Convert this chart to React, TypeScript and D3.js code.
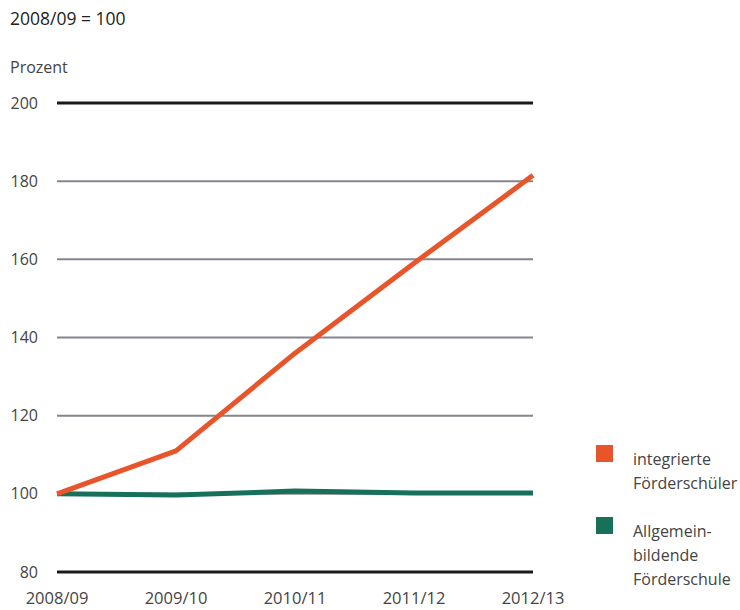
import React from "react";
import * as d3 from "d3";

const categories = ["2008/09", "2009/10", "2010/11", "2011/12", "2012/13"];
const integrierte = [100, 111, 136, 159, 181.5];
const allgemein = [100, 99.7, 100.7, 100.2, 100.2];
const yTicks = [80, 100, 120, 140, 160, 180, 200];
const legendItems = [
  { lines: ["integrierte", "Förderschüler"], color: "#E8552A" },
  { lines: ["Allgemein-", "bildende", "Förderschule"], color: "#17705A" },
];

const W = 740;
const H = 610;
const FONT = "'Open Sans', 'Noto Sans', sans-serif";

export default function App() {
  const x = d3.scalePoint<string>().domain(categories).range([57, 533]);
  const y = d3.scaleLinear().domain([80, 200]).range([572, 103]);
  const line = d3
    .line<number>()
    .x((_, i) => x(categories[i]) as number)
    .y((d) => y(d));

  return (
    <svg
      width={W}
      height={H}
      style={{ position: "absolute", left: 0, top: 0, background: "#fff" }}
      fontFamily={FONT}
    >
      <text x={10} y={25} fontSize={17.5} fill="#222" fontWeight={500}>
        2008/09 = 100
      </text>
      <text x={10} y={73} fontSize={16} fill="#444">
        Prozent
      </text>
      {yTicks.map((t) => {
        const edge = t === 80 || t === 200;
        return (
          <g key={t}>
            <line
              x1={57}
              x2={533}
              y1={y(t)}
              y2={y(t)}
              stroke={edge ? "#1a1a1a" : "#85858d"}
              strokeWidth={edge ? 3 : 2}
            />
            <text
              x={38}
              y={y(t)}
              dy="0.35em"
              textAnchor="end"
              fontSize={16}
              fill="#444"
            >
              {t}
            </text>
          </g>
        );
      })}
      {categories.map((c) => (
        <text
          key={c}
          x={x(c) as number}
          y={604}
          textAnchor="middle"
          fontSize={16.5}
          fill="#444"
        >
          {c}
        </text>
      ))}
      <path
        d={line(allgemein) || ""}
        fill="none"
        stroke="#17705A"
        strokeWidth={5}
        strokeLinejoin="round"
      />
      <path
        d={line(integrierte) || ""}
        fill="none"
        stroke="#E8552A"
        strokeWidth={5}
        strokeLinejoin="round"
      />
      {legendItems.map((it, i) => {
        const top = i === 0 ? 445 : 517;
        return (
          <g key={i}>
            <rect x={596} y={top} width={17} height={17} fill={it.color} />
            {it.lines.map((l, j) => (
              <text
                key={j}
                x={633}
                y={top + 20 + j * 24}
                fontSize={16}
                fill="#444"
              >
                {l}
              </text>
            ))}
          </g>
        );
      })}
    </svg>
  );
}
